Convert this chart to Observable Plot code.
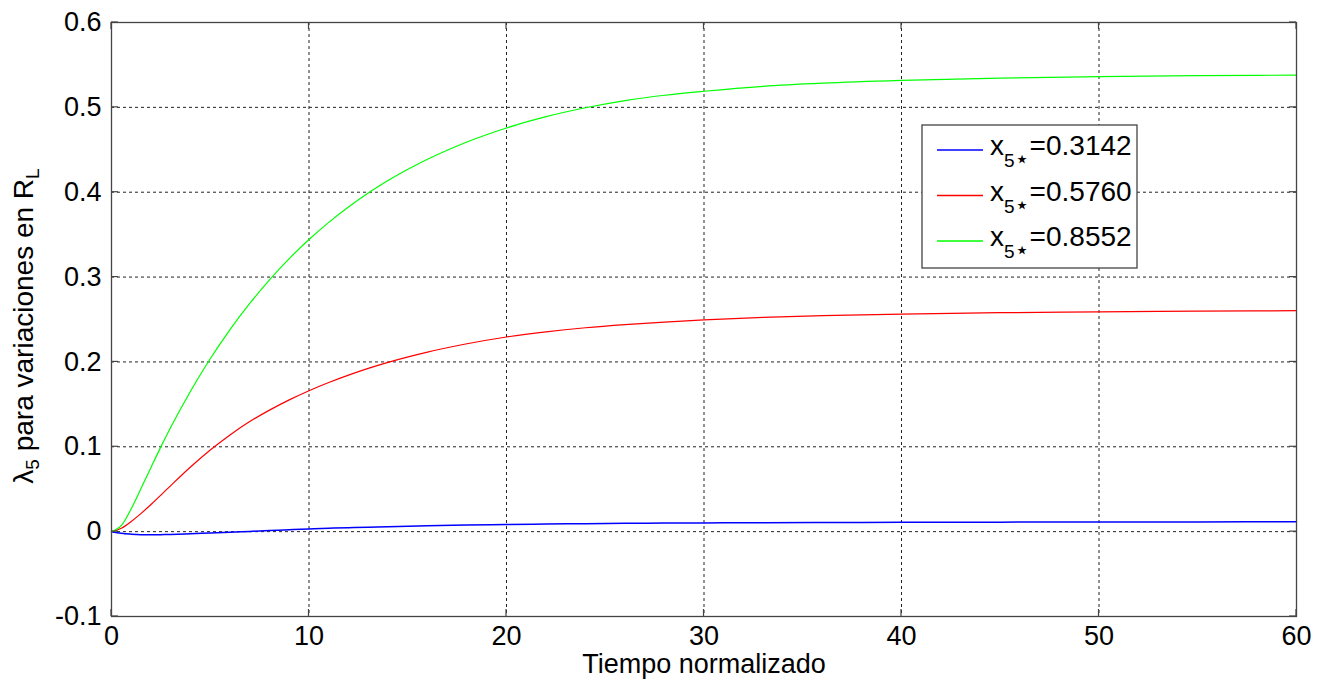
<!DOCTYPE html>
<html>
<head>
<meta charset="utf-8">
<script src="https://cdn.jsdelivr.net/npm/d3@7"></script>
<script src="https://cdn.jsdelivr.net/npm/@observablehq/plot@0.6"></script>
<style>
  html, body { margin: 0; padding: 0; background: #fff; }
  svg { display: block; }
</style>
</head>
<body>
<div id="chart"></div>
<script>
// ---- data ----
const time = [0, 0.5, 1, 1.5, 2, 2.5, 3, 4, 5, 6, 7, 8, 9, 10, 11, 12, 13, 14, 16, 18, 20, 22, 24, 26, 28, 30, 33, 36, 40, 45, 50, 55, 60];
const blueVals  = [0, -0.002, -0.003, -0.0036, -0.0038, -0.0036, -0.0033, -0.0025, -0.0016, -0.0007, 0.0003, 0.0013, 0.0023, 0.0032, 0.004, 0.0047, 0.0053, 0.0059, 0.0069, 0.0077, 0.0084, 0.009, 0.0094, 0.0098, 0.0101, 0.0103, 0.0106, 0.0108, 0.011, 0.0112, 0.0114, 0.0115, 0.0116];
const redVals   = [0, 0.004, 0.012, 0.0215, 0.032, 0.0431, 0.0543, 0.0762, 0.0962, 0.114, 0.1297, 0.1432, 0.1553, 0.1661, 0.1758, 0.1845, 0.1924, 0.1995, 0.2116, 0.2214, 0.2294, 0.2355, 0.2403, 0.244, 0.247, 0.2495, 0.2525, 0.2545, 0.2563, 0.258, 0.259, 0.2598, 0.2604];
const greenVals = [0, 0.0073, 0.027, 0.051, 0.0757, 0.0999, 0.123, 0.1655, 0.2037, 0.2381, 0.2689, 0.2968, 0.3218, 0.3443, 0.3645, 0.3826, 0.399, 0.4137, 0.4388, 0.4592, 0.4757, 0.489, 0.4995, 0.508, 0.5143, 0.519, 0.5248, 0.5285, 0.5318, 0.5345, 0.5362, 0.5373, 0.538];

const seriesValues = [blueVals, redVals, greenVals];
const seriesLabels = ["=0.3142", "=0.5760", "=0.8552"];
const seriesColors = ["#0000ff", "#ff0000", "#00ff00"];

const xTicks = [0, 10, 20, 30, 40, 50, 60];
const yTicks = [-0.1, 0, 0.1, 0.2, 0.3, 0.4, 0.5, 0.6];
const xLabel = "Tiempo normalizado";

// ---- build tables ----
const tables = seriesValues.map(vals => time.map((t, i) => ({t, v: vals[i]})));

const FONT = "Arial, 'Liberation Sans', Helvetica, sans-serif";
const gridStyle = {stroke: "#222", strokeOpacity: 1, strokeWidth: 1, strokeDasharray: "3,3"};

const plot = Plot.plot({
  width: 1327,
  height: 686,
  marginLeft: 111,
  marginRight: 31,
  marginTop: 22,
  marginBottom: 70,
  style: {fontFamily: FONT, fontSize: "27px", color: "#000", background: "#fff"},
  x: {domain: [0, 60], ticks: xTicks, label: null},
  y: {domain: [-0.1, 0.6], ticks: yTicks, label: null},
  marks: [
    Plot.gridX(xTicks, gridStyle),
    Plot.gridY(yTicks, gridStyle),
    ...tables.map((tbl, i) => Plot.line(tbl, {
      x: "t", y: "v", stroke: seriesColors[i], strokeWidth: i === 0 ? 1.5 : 1.2, curve: "monotone-x"
    })),
    Plot.frame({stroke: "#444", strokeWidth: 1.3}),
    Plot.axisX(xTicks, {tickSize: 0, tickPadding: 9, label: null, fill: "#000"}),
    Plot.axisY(yTicks, {tickSize: 0, tickPadding: 10, label: null, fill: "#000",
      tickFormat: d => d === 0 ? "0" : d.toFixed(1)}),
    Plot.text([xLabel], {frameAnchor: "bottom", dy: 56, text: d => d, fill: "#000", fontSize: 27})
  ]
});

document.getElementById("chart").appendChild(plot);

// ---- extras: inward ticks, y label with subscripts, legend ----
const svg = d3.select(plot);
const sx = plot.scale("x"), sy = plot.scale("y");
const [x0, x1] = sx.range;
const [y0, y1] = sy.range; // y0 bottom, y1 top
const tk = 7;
const tg = svg.append("g").attr("stroke", "#444").attr("stroke-width", 1.2);
xTicks.forEach(v => {
  const px = sx.apply(v);
  tg.append("line").attr("x1", px).attr("x2", px).attr("y1", y0).attr("y2", y0 - tk);
  tg.append("line").attr("x1", px).attr("x2", px).attr("y1", y1).attr("y2", y1 + tk);
});
yTicks.forEach(v => {
  const py = sy.apply(v);
  tg.append("line").attr("x1", x0).attr("x2", x0 + tk).attr("y1", py).attr("y2", py);
  tg.append("line").attr("x1", x1).attr("x2", x1 - tk).attr("y1", py).attr("y2", py);
});

// y label
const cy = (y0 + y1) / 2 + 7;
const yl = svg.append("text")
  .attr("transform", `translate(33,${cy}) rotate(-90)`)
  .attr("text-anchor", "middle")
  .attr("fill", "#000")
  .style("font-family", FONT)
  .style("font-size", "28px");
yl.append("tspan").text("λ");
yl.append("tspan").attr("dy", 6).style("font-size", "19px").text("5");
yl.append("tspan").attr("dy", -6).text(" para variaciones en R");
yl.append("tspan").attr("dy", 6).style("font-size", "19px").text("L");

// legend
const lg = svg.append("g").attr("transform", "translate(922,125)");
lg.append("rect").attr("x", 0).attr("y", 0).attr("width", 215).attr("height", 143)
  .attr("fill", "#fff").attr("stroke", "#444").attr("stroke-width", 1.3);
seriesLabels.forEach((lab, i) => {
  const yy = 25 + i * 45.5;
  lg.append("line").attr("x1", 15).attr("x2", 61).attr("y1", yy).attr("y2", yy)
    .attr("stroke", seriesColors[i]).attr("stroke-width", 1.3);
  const t = lg.append("text").attr("x", 68).attr("y", yy + 5)
    .attr("text-anchor", "start")
    .attr("fill", "#000").style("font-family", FONT).style("font-size", "28px");
  t.append("tspan").text("x");
  t.append("tspan").attr("dy", 12).style("font-size", "19px").text("5");
  t.append("tspan").style("font-size", "24px").style("font-family", "'DejaVu Sans', sans-serif").text("⋆");
  t.append("tspan").attr("dy", -12).text(lab);
});
</script>
</body>
</html>
